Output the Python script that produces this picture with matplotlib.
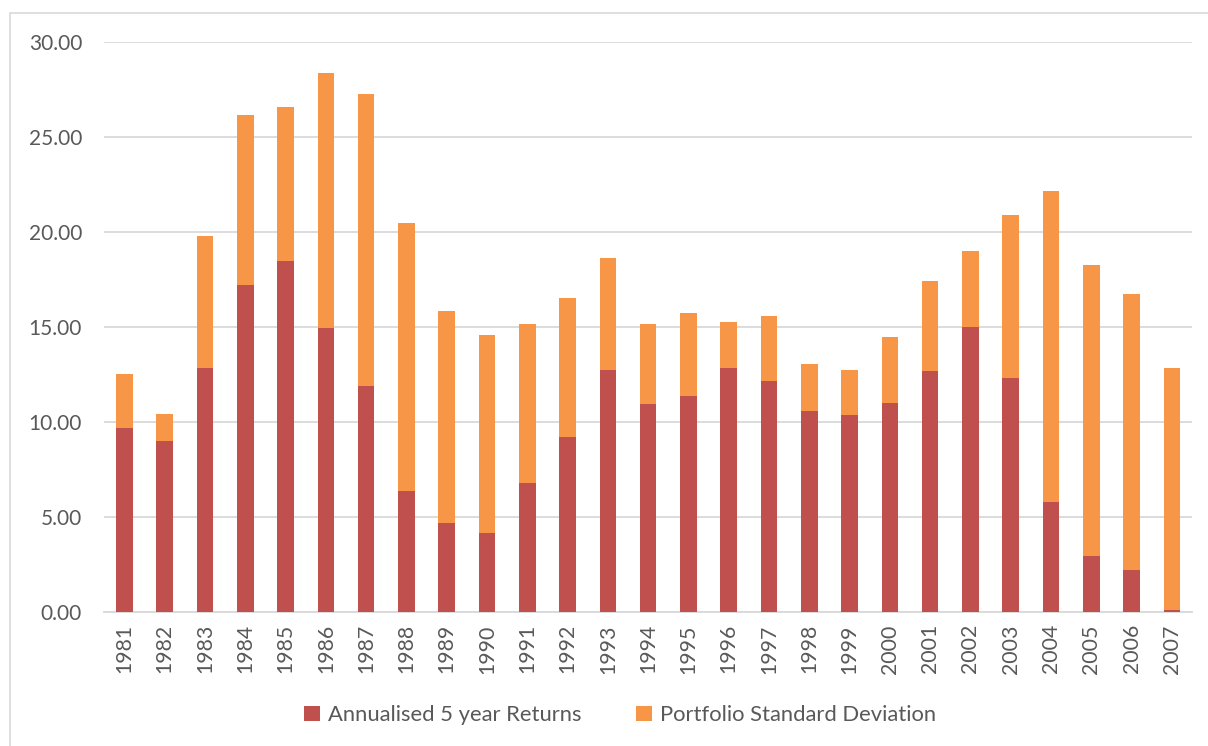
import matplotlib
matplotlib.use("Agg")
import matplotlib.pyplot as plt
from matplotlib.patches import Rectangle
import numpy as np

years = [str(y) for y in range(1981, 2008)]
returns = [9.68, 9.00, 12.84, 17.21, 18.46, 14.95, 11.89, 6.37, 4.68, 4.16,
           6.79, 9.21, 12.74, 10.95, 11.37, 12.83, 12.16, 10.60, 10.34, 11.00,
           12.68, 15.00, 12.32, 5.76, 2.95, 2.19, 0.10]
totals = [12.53, 10.39, 19.77, 26.19, 26.60, 28.39, 27.28, 20.49, 15.83, 14.56,
          15.14, 16.51, 18.62, 15.14, 15.74, 15.26, 15.56, 13.07, 12.74, 14.49,
          17.41, 18.98, 20.88, 22.16, 18.26, 16.76, 12.83]
std_dev = [round(t - r, 2) for t, r in zip(totals, returns)]

RED = "#C0504D"
ORANGE = "#F79646"
TXT = "#595959"
GRID = "#D9D9D9"

plt.rcParams['font.family'] = ['Lato', 'DejaVu Sans']

fig = plt.figure(figsize=(12.08, 7.46), dpi=100)
fig.patches.append(Rectangle((10/1208, -0.1), 1.2, (746-13)/746 + 0.1,
                             transform=fig.transFigure, fill=False,
                             edgecolor=GRID, linewidth=1.2))
ax = fig.add_axes([104.3/1208, (746-611.7)/746, (1192-104.3)/1208, (611.7-42.3)/746])

x = np.arange(len(years))
w = 0.41
ax.bar(x, returns, w, color=RED, label="Annualised 5 year Returns", zorder=3)
ax.bar(x, std_dev, w, bottom=returns, color=ORANGE,
       label="Portfolio Standard Deviation", zorder=3)

ax.set_xlim(-0.5, len(years) - 0.5)
ax.set_ylim(0, 30)
ax.set_yticks(np.arange(0, 30.1, 5))
ax.set_yticklabels([f"{v:.2f}" for v in np.arange(0, 30.1, 5)])
ax.set_xticks(x)
ax.set_xticklabels(years, rotation=90)
ax.grid(axis='y', color=GRID, linewidth=1.3, zorder=0)
for s in ['top', 'right', 'left']:
    ax.spines[s].set_visible(False)
ax.spines['bottom'].set_color(GRID)
ax.spines['bottom'].set_linewidth(1.3)
ax.tick_params(axis='y', length=0, pad=16, labelsize=15, labelcolor=TXT)
ax.tick_params(axis='x', length=0, pad=9, labelsize=15.3, labelcolor=TXT)

leg = fig.legend(loc='center', bbox_to_anchor=(620/1208, (746-715)/746),
                 ncol=2, frameon=False, fontsize=15.8, handlelength=0.72,
                 handleheight=0.72, handletextpad=0.35, columnspacing=2.5)
for t in leg.get_texts():
    t.set_color(TXT)

fig.savefig("out.png", dpi=100)
